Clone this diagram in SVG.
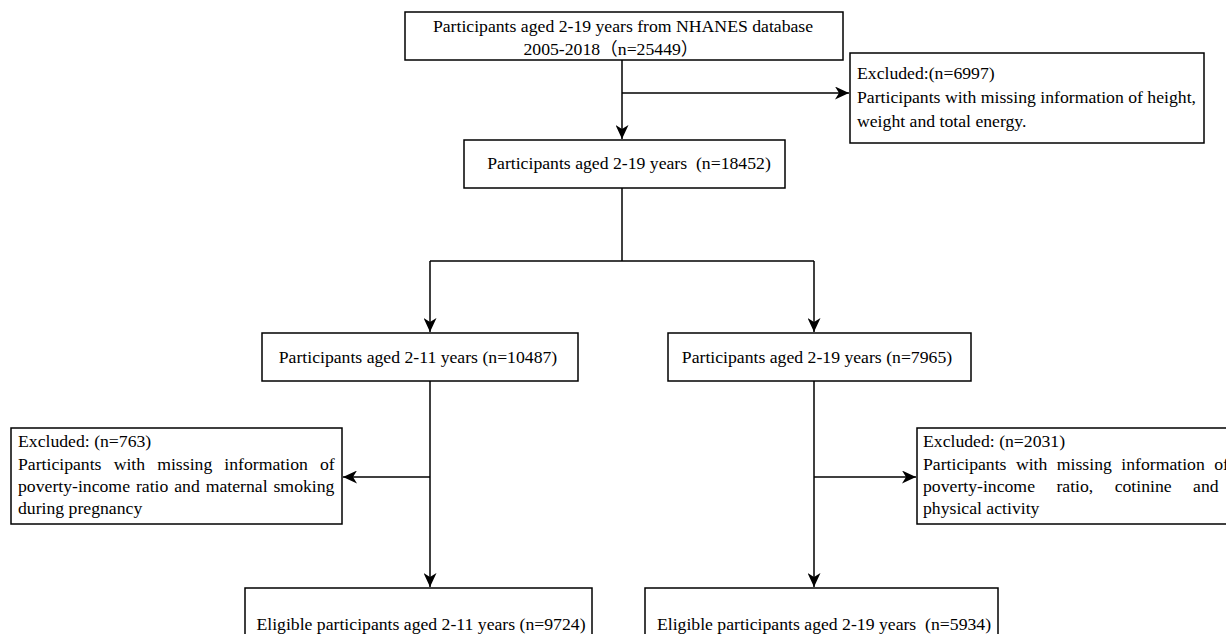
<svg xmlns="http://www.w3.org/2000/svg" width="1226" height="634" viewBox="0 0 1226 634">
<defs>
<style>
.box{fill:#fff;stroke:#000;stroke-width:1.5}
.t{font-family:"Liberation Serif","Noto Sans CJK SC",serif;font-size:17.7px;fill:#000}
.c{text-anchor:middle}
.ln{fill:none;stroke:#000;stroke-width:1.5}
</style>
<marker id="ah" markerUnits="userSpaceOnUse" markerWidth="15" markerHeight="13" refX="14" refY="6.5" orient="auto">
<path d="M0,0 L14,6.5 L0,13 L4,6.5 z" fill="#000"/>
</marker>
</defs>
<rect width="1226" height="634" fill="#fff"/>
<g id="connectors">
<line class="ln" x1="622" y1="60" x2="622" y2="139" marker-end="url(#ah)"/>
<line class="ln" x1="622" y1="93" x2="849" y2="93" marker-end="url(#ah)"/>
<polyline class="ln" points="622,188 622,261"/>
<polyline class="ln" points="430,261 814,261"/>
<line class="ln" x1="430" y1="261" x2="430" y2="332" marker-end="url(#ah)"/>
<line class="ln" x1="814" y1="261" x2="814" y2="332" marker-end="url(#ah)"/>
<line class="ln" x1="430" y1="381" x2="430" y2="587" marker-end="url(#ah)"/>
<line class="ln" x1="430" y1="477" x2="343" y2="477" marker-end="url(#ah)"/>
<line class="ln" x1="814" y1="381" x2="814" y2="587" marker-end="url(#ah)"/>
<line class="ln" x1="814" y1="477" x2="916" y2="477" marker-end="url(#ah)"/>
</g>
<g id="n1">
<rect class="box" x="405" y="12" width="438" height="48"/>
<text class="t c" x="623" y="32">Participants aged 2-19 years from NHANES database</text>
<text class="t c" x="611" y="55">2005-2018（n=25449）</text>
</g>
<g id="ex1">
<rect class="box" x="850" y="53" width="354" height="90"/>
<text class="t" x="857" y="79">Excluded:(n=6997)</text>
<text class="t" x="857" y="103">Participants with missing information of height,</text>
<text class="t" x="857" y="127">weight and total energy.</text>
</g>
<g id="n2">
<rect class="box" x="464" y="140" width="321" height="48"/>
<text class="t c" x="629" y="169" xml:space="preserve">Participants aged 2-19 years  (n=18452)</text>
</g>
<g id="nL">
<rect class="box" x="262" y="333" width="316" height="48"/>
<text class="t c" x="418" y="363">Participants aged 2-11 years (n=10487)</text>
</g>
<g id="nR">
<rect class="box" x="668" y="333" width="303" height="48"/>
<text class="t c" x="817" y="363">Participants aged 2-19 years (n=7965)</text>
</g>
<g id="exL">
<rect class="box" x="11" y="428" width="331" height="96"/>
<text class="t" x="18" y="447">Excluded: (n=763)</text>
<text class="t" x="18" y="470" word-spacing="7.7">Participants with missing information of</text>
<text class="t" x="18" y="492" word-spacing="1.5">poverty-income ratio and maternal smoking</text>
<text class="t" x="18" y="514">during pregnancy</text>
</g>
<g id="exR">
<rect class="box" x="917" y="428" width="330" height="96"/>
<text class="t" x="923" y="447">Excluded: (n=2031)</text>
<text class="t" x="923" y="470" word-spacing="5">Participants with missing information of</text>
<text class="t" x="923" y="492" word-spacing="17">poverty-income ratio, cotinine and</text>
<text class="t" x="923" y="514">physical activity</text>
</g>
<g id="bL">
<rect class="box" x="245" y="588" width="347" height="60"/>
<text class="t c" x="421" y="630">Eligible participants aged 2-11 years (n=9724)</text>
</g>
<g id="bR">
<rect class="box" x="645" y="588" width="353" height="60"/>
<text class="t c" x="824" y="630" xml:space="preserve">Eligible participants aged 2-19 years  (n=5934)</text>
</g>
</svg>
